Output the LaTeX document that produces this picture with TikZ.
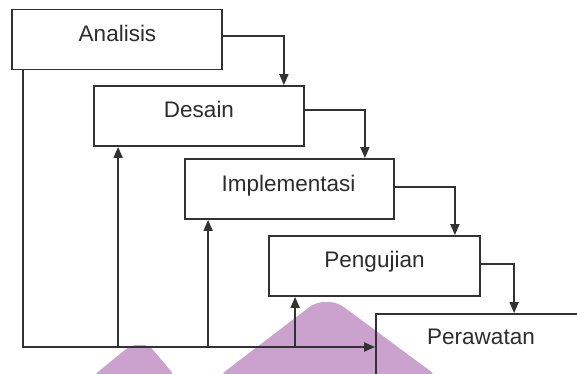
\documentclass[tikz,border=0pt]{standalone}
\usepackage{fontspec}
\setmainfont{Liberation Sans}
\usetikzlibrary{arrows.meta}
\definecolor{ln}{RGB}{50,50,50}
\definecolor{wm}{RGB}{203,162,206}
\tikzset{
  stagebox/.style={draw=ln, line width=1.8pt, minimum width=210pt, minimum height=60pt, inner sep=0pt},
  lbl/.style={text=ln!90!black, font=\fontsize{22.5}{26}\selectfont, inner sep=0pt, anchor=base},
  arr/.style={draw=ln, line width=1.8pt, -{Triangle[length=11pt,width=9pt]}},
  ln/.style={draw=ln, line width=1.8pt}
}
\begin{document}
\begin{tikzpicture}[x=1pt,y=-1pt]
\useasboundingbox (0,0) rectangle (577,373);
\fill[white] (0,0) rectangle (577,373);
\clip (0,0) rectangle (577,373);
% watermark
\fill[wm, rounded corners=6pt] (93,376) -- (131,345) -- (149,345) -- (175,376) -- cycle;
\fill[wm, rounded corners=8pt] (219,376) -- (316,302) -- (337,302) -- (437,376) -- cycle;
% boxes
\node[stagebox] (A) at (117,39.5) {};
\node[stagebox] (D) at (199,116) {};
\node[stagebox, minimum width=209pt] (I) at (289.5,189) {};
\node[stagebox, minimum width=211pt] (P) at (374.5,266) {};
\node[stagebox, minimum width=230pt, minimum height=66pt] (W) at (491,347) {};
% labels
\node[lbl] (tA) at (117.5,41.5) {Analisis};
\node[lbl] (tD) at (199,117) {Desain};
\node[lbl] (tI) at (288.5,191) {Implementasi};
\node[lbl] (tP) at (374.5,267) {Pengujian};
\node[lbl] (tW) at (481,344) {Perawatan};
% forward connectors
\draw[arr] ([yshift=3.5pt]A.east) -| ([xshift=-21pt]D.north east);
\draw[arr] ([yshift=6pt]D.east) -| ([xshift=-30pt]I.north east);
\draw[arr] ([yshift=2pt]I.east) -| ([xshift=-26pt]P.north east);
\draw[arr] ([yshift=2pt]P.east) -| ([xshift=139pt]W.north west);
% feedback
\draw[arr] ([xshift=12pt]A.south west) |- (W.west);
\draw[arr] ([xshift=25pt]D.south west |- W.west) -- ([xshift=25pt]D.south west);
\draw[arr] ([xshift=24pt]I.south west |- W.west) -- ([xshift=24pt]I.south west);
\draw[arr] ([xshift=27pt]P.south west |- W.west) -- ([xshift=27pt]P.south west);
\end{tikzpicture}
\end{document}
